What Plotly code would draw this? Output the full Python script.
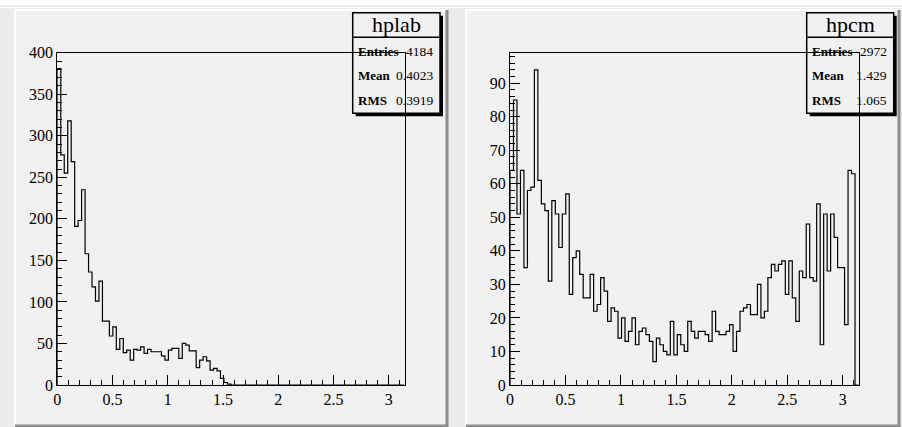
import math
import plotly.graph_objects as go

# ---------------- data ----------------
x_min = 0.0
x_max = math.pi
n_bins = 100

hplab_counts = [381, 277, 255, 318, 269, 191, 198, 235, 158, 136,
                118, 101, 125, 77, 77, 59, 70, 43, 56, 39,
                42, 30, 43, 42, 46, 38, 43, 40, 40, 40,
                35, 30, 42, 44, 44, 32, 50, 48, 41, 41,
                21, 30, 34, 29, 18, 20, 17, 8, 3, 1] + [0] * 50

hpcm_counts = [64, 85, 51, 64, 35, 58, 59, 94, 61, 54,
               52, 31, 55, 51, 41, 51, 57, 27, 38, 40,
               33, 26, 26, 33, 22, 24, 32, 28, 19, 23,
               22, 14, 20, 13, 16, 20, 12, 16, 17, 15,
               13, 7, 14, 12, 10, 9, 19, 9, 15, 12,
               10, 19, 16, 14, 16, 16, 15, 13, 22, 16,
               15, 15, 16, 18, 10, 16, 22, 23, 24, 21,
               21, 30, 20, 22, 32, 36, 34, 36, 37, 27,
               37, 26, 19, 34, 32, 48, 32, 31, 54, 12,
               51, 34, 51, 44, 35, 35, 18, 64, 63, 0]

hplab_stats = [("Entries", "4184"), ("Mean", "0.4023"), ("RMS", "0.3919")]
hpcm_stats = [("Entries", "2972"), ("Mean", "1.429"), ("RMS", "1.065")]

# ---------------- layout helpers ----------------
W, H = 902, 427
def PX(x):
    return x / W
def PY(y):
    return 1 - y / H

FONT = "Liberation Serif"
PAD_FILL = "#f1f1f1"
CANVAS_FILL = "#ececec"

edges = [x_min + (x_max - x_min) * i / n_bins for i in range(n_bins + 1)]

def step_xy(counts):
    xs = [edges[0]] + edges[:-1] + [edges[-1]]
    ys = [0] + list(counts) + [0]
    return xs, ys

fig = go.Figure()

panels = [
    dict(name="hplab", counts=hplab_counts, stats=hplab_stats, xa="x", ya="y",
         frame=(57.3, 404.5), ymax=400.0, dtick=50, minor=10,
         pad=(15, 10, 447, 426), box=(352.7, 12.7, 440.0, 113.3)),
    dict(name="hpcm", counts=hpcm_counts, stats=hpcm_stats, xa="x2", ya="y2",
         frame=(510.0, 858.5), ymax=99.1, dtick=10, minor=2,
         pad=(466, 10, 899, 426), box=(806.7, 12.7, 893.7, 113.3)),
]

shapes = []
annotations = []
frame_top, frame_bot = 52.7, 385.0

for i, p in enumerate(panels):
    xs, ys = step_xy(p["counts"])
    fig.add_trace(go.Scatter(x=xs, y=ys, mode="lines",
                             line=dict(color="black", width=1.2, shape="hv"),
                             xaxis=p["xa"], yaxis=p["ya"],
                             hoverinfo="skip", showlegend=False))
    sfx = "" if i == 0 else "2"
    axis_common = dict(showline=True, mirror=True, linecolor="black", linewidth=1.2,
                       ticks="inside", ticklen=10, tickwidth=1, tickcolor="black",
                       showgrid=False, zeroline=False, automargin=False,
                       tickfont=dict(family=FONT, size=16, color="black"))
    fig.update_layout(**{
        "xaxis" + sfx: dict(domain=[PX(p["frame"][0]), PX(p["frame"][1])],
                            range=[x_min, x_max], tick0=0, dtick=0.5,
                            minor=dict(ticks="inside", ticklen=5, dtick=0.1,
                                       tickcolor="black", tickwidth=1),
                            anchor="y" + sfx, **axis_common),
        "yaxis" + sfx: dict(domain=[PY(frame_bot), PY(frame_top)],
                            range=[0, p["ymax"]], tick0=0, dtick=p["dtick"],
                            minor=dict(ticks="inside", ticklen=5, dtick=p["minor"],
                                       tickcolor="black", tickwidth=1),
                            anchor="x" + sfx, **axis_common),
    })

    # pad with bevel border
    x0, y0, x1, y1 = p["pad"]
    shapes.append(dict(type="rect", xref="paper", yref="paper", layer="below",
                       x0=PX(x0), x1=PX(x1), y0=PY(y1), y1=PY(y0),
                       fillcolor=PAD_FILL, line=dict(width=0)))
    shapes.append(dict(type="path", xref="paper", yref="paper", layer="below",
                       path=f"M {PX(x0)},{PY(y1)} L {PX(x0)},{PY(y0)} L {PX(x1)},{PY(y0)}",
                       line=dict(color="#ffffff", width=2)))
    shapes.append(dict(type="path", xref="paper", yref="paper", layer="below",
                       path=f"M {PX(x0)},{PY(y1)} L {PX(x1)},{PY(y1)} L {PX(x1)},{PY(y0)}",
                       line=dict(color="#8c8c8c", width=3)))

    # stats box with shadow
    bx0, by0, bx1, by1 = p["box"]
    shapes.append(dict(type="rect", xref="paper", yref="paper", layer="below",
                       x0=PX(bx0 + 3), x1=PX(bx1 + 3), y0=PY(by1 + 3), y1=PY(by0 + 3),
                       fillcolor="black", line=dict(width=0)))
    shapes.append(dict(type="rect", xref="paper", yref="paper", layer="below",
                       x0=PX(bx0), x1=PX(bx1), y0=PY(by1), y1=PY(by0),
                       fillcolor=PAD_FILL, line=dict(color="black", width=1.5)))
    sep_y = 37.3
    shapes.append(dict(type="line", xref="paper", yref="paper", layer="below",
                       x0=PX(bx0), x1=PX(bx1), y0=PY(sep_y), y1=PY(sep_y),
                       line=dict(color="black", width=1.5)))
    annotations.append(dict(xref="paper", yref="paper", x=PX((bx0 + bx1) / 2), y=PY(25),
                            text=p["name"], showarrow=False, xanchor="center", yanchor="middle",
                            font=dict(family=FONT, size=22, color="black")))
    for j, (lab, val) in enumerate(p["stats"]):
        yc = 51 + j * 24.5
        annotations.append(dict(xref="paper", yref="paper", x=PX(bx0 + 3.5), y=PY(yc),
                                text="<b>" + lab + "</b>", showarrow=False,
                                xanchor="left", yanchor="middle",
                                font=dict(family=FONT, size=13, color="black")))
        annotations.append(dict(xref="paper", yref="paper", x=PX(bx1 - 5), y=PY(yc),
                                text=val, showarrow=False, xanchor="right", yanchor="middle",
                                font=dict(family=FONT, size=13.5, color="black")))

# white strip at the very top of the canvas
shapes.insert(0, dict(type="rect", xref="paper", yref="paper", layer="below",
                      x0=0, x1=1, y0=PY(8), y1=1, fillcolor="white", line=dict(width=0)))
shapes.insert(1, dict(type="line", xref="paper", yref="paper", layer="below",
                      x0=0, x1=1, y0=PY(6), y1=PY(6), line=dict(color="#dcdcdc", width=1)))

fig.update_layout(template="none", width=W, height=H, autosize=False,
                  margin=dict(l=0, r=0, t=0, b=0, pad=0),
                  paper_bgcolor=CANVAS_FILL, plot_bgcolor="rgba(0,0,0,0)",
                  shapes=shapes, annotations=annotations, showlegend=False)

fig.write_html("out.html", config={"displayModeBar": False},
               post_script="document.body.style.margin='0';")
